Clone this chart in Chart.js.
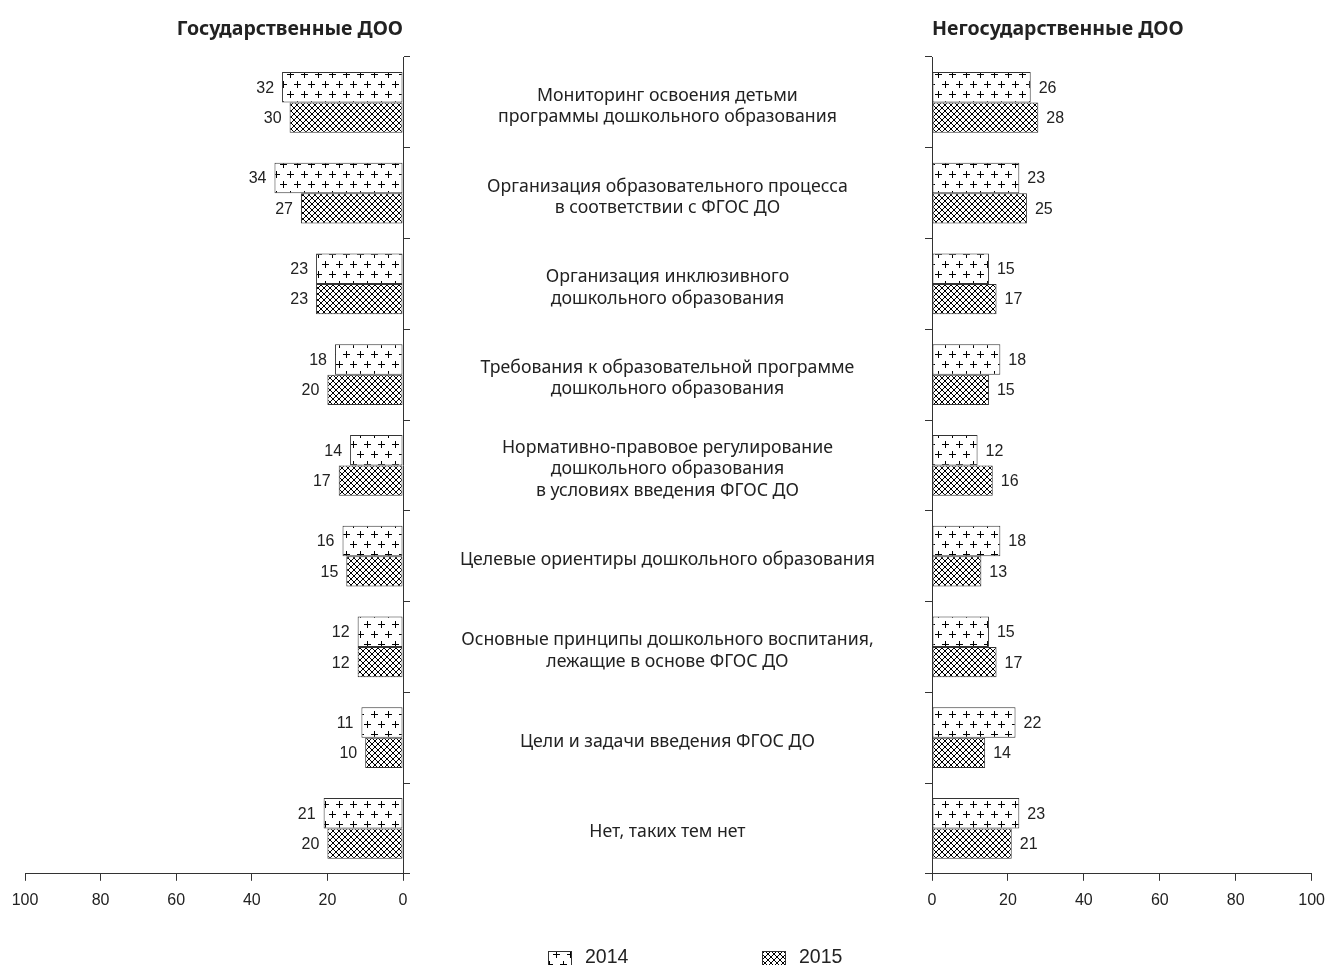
<!DOCTYPE html>
<html>
<head>
<meta charset="utf-8">
<script src="https://cdn.jsdelivr.net/npm/chart.js@4"></script>
<style>
  html, body { margin: 0; padding: 0; background: #fff; overflow: hidden; }
  #wrap { position: relative; width: 1325px; height: 965px; overflow: hidden; }
  canvas { position: absolute; top: 0; }
  #left { left: 0; }
  #right { left: 900px; }
</style>
</head>
<body>
<div id="wrap">
  <canvas id="left" width="932" height="965"></canvas>
  <canvas id="right" width="435" height="965"></canvas>
</div>
<script>
const temy = [
    ['Мониторинг освоения детьми', 'программы дошкольного образования'],
    ['Организация образовательного процесса', 'в соответствии с ФГОС ДО'],
    ['Организация инклюзивного', 'дошкольного образования'],
    ['Требования к образовательной программе', 'дошкольного образования'],
    ['Нормативно-правовое регулирование', 'дошкольного образования', 'в условиях введения ФГОС ДО'],
    'Целевые ориентиры дошкольного образования',
    ['Основные принципы дошкольного воспитания,', 'лежащие в основе ФГОС ДО'],
    'Цели и задачи введения ФГОС ДО',
    'Нет, таких тем нет'
];
const gos2014 = [32, 34, 23, 18, 14, 16, 12, 11, 21];
const gos2015 = [30, 27, 23, 20, 17, 15, 12, 10, 20];
const negos2014 = [26, 23, 15, 18, 12, 18, 15, 22, 23];
const negos2015 = [28, 25, 17, 15, 16, 13, 17, 14, 21];
const xTicks = [0, 20, 40, 60, 80, 100];

const textColor = '#222';
const lineColor = '#333';
const arial = '"Liberation Sans", Arial, sans-serif';

// штриховки
function plusPattern() {
    const c = document.createElement('canvas');
    c.width = 14; c.height = 20;
    const g = c.getContext('2d');
    g.fillStyle = '#fff';
    g.fillRect(0, 0, 14, 20);
    g.strokeStyle = '#000';
    g.lineWidth = 1;
    const plus = (x, y) => {
        g.beginPath();
        g.moveTo(x - 3.5, y); g.lineTo(x + 3.5, y);
        g.moveTo(x, y - 3.5); g.lineTo(x, y + 3.5);
        g.stroke();
    };
    plus(3.5, 4.5);
    plus(10.5, 14.5);
    return g.createPattern(c, 'repeat');
}
function hatchPattern() {
    const c = document.createElement('canvas');
    c.width = 6; c.height = 6;
    const g = c.getContext('2d');
    g.fillStyle = '#fff';
    g.fillRect(0, 0, 6, 6);
    g.strokeStyle = '#000';
    g.lineWidth = 1;
    g.beginPath();
    g.moveTo(-1, -1); g.lineTo(7, 7);
    g.moveTo(7, -1); g.lineTo(-1, 7);
    g.stroke();
    return g.createPattern(c, 'repeat');
}
const pat2014 = plusPattern();
const pat2015 = hatchPattern();

const valueLabels = {
    id: 'valueLabels',
    afterDatasetsDraw(chart, args, opts) {
        const ctx = chart.ctx;
        ctx.save();
        ctx.font = '16px ' + arial;
        ctx.fillStyle = textColor;
        ctx.textBaseline = 'middle';
        ctx.textAlign = opts.side < 0 ? 'right' : 'left';
        chart.data.datasets.forEach((ds, i) => {
            chart.getDatasetMeta(i).data.forEach((bar, j) => {
                ctx.fillText(ds.data[j], bar.x + opts.side * 8, bar.y + 1);
            });
        });
        ctx.restore();
    }
};

const patternLegend = {
    id: 'patternLegend',
    afterDraw(chart, args, opts) {
        if (!opts.items) return;
        const ctx = chart.ctx;
        ctx.save();
        ctx.font = '19.5px ' + arial;
        ctx.textBaseline = 'middle';
        ctx.textAlign = 'left';
        opts.items.forEach((it, i) => {
            const ds = chart.data.datasets[i];
            ctx.fillStyle = ds.backgroundColor;
            ctx.fillRect(it.x, opts.y, 24, 14);
            ctx.strokeStyle = lineColor;
            ctx.lineWidth = 1;
            ctx.strokeRect(it.x + 0.5, opts.y + 0.5, 23, 14);
            ctx.fillStyle = textColor;
            ctx.fillText(ds.label, it.x + 37, opts.y + 7);
        });
        ctx.restore();
    }
};

function makeDatasets(d14, d15) {
    return [{
        label: '2014',
        data: d14,
        backgroundColor: pat2014,
        borderColor: lineColor,
        borderWidth: 1,
        borderSkipped: false,
        categoryPercentage: 0.67,
        barPercentage: 1
    }, {
        label: '2015',
        data: d15,
        backgroundColor: pat2015,
        borderColor: lineColor,
        borderWidth: 1,
        borderSkipped: false,
        categoryPercentage: 0.67,
        barPercentage: 1
    }];
}

const xAxis = (reverse) => ({
    min: 0,
    max: 100,
    reverse: reverse,
    afterBuildTicks: (s) => { s.ticks = xTicks.map(v => ({ value: v })); },
    grid: { drawOnChartArea: false, tickLength: 7, color: lineColor },
    border: { color: lineColor },
    ticks: { color: textColor, padding: 10, maxRotation: 0, font: { family: arial, size: 16 } }
});

// ось категорий не должна раздвигать область графика
const fitY = (w) => (s) => {
    s.width = w;
    s.paddingTop = 0;
    s.paddingBottom = 0;
};

const titleFont = { family: '"Noto Sans", sans-serif', size: 19.5, weight: 'bold' };
const titlePad = { top: 18, bottom: 15.6 };

const chartL = new Chart(document.getElementById('left'), {
    type: 'bar',
    data: { labels: temy, datasets: makeDatasets(gos2014, gos2015) },
    plugins: [valueLabels, patternLegend],
    options: {
        indexAxis: 'y',
        responsive: false,
        animation: false,
        layout: { padding: { left: 25, right: 0, top: 0, bottom: 45 } },
        plugins: {
            legend: { display: false },
            tooltip: { enabled: false },
            title: {
                display: true,
                text: 'Государственные ДОО',
                align: 'end',
                fullSize: false,
                color: textColor,
                font: titleFont,
                padding: titlePad
            },
            valueLabels: { side: -1 },
            patternLegend: { y: 951, items: [{ x: 548 }, { x: 762 }] }
        },
        scales: {
            x: xAxis(true),
            y: {
                position: 'right',
                afterFit: fitY(529),
                grid: { drawOnChartArea: false, tickLength: 7, color: lineColor },
                border: { color: lineColor },
                ticks: {
                    crossAlign: 'center',
                    padding: 50,
                    labelOffset: 4,
                    color: textColor,
                    font: { family: '"Noto Sans", sans-serif', size: 17.7, lineHeight: 1.2 }
                }
            }
        }
    }
});

const chartR = new Chart(document.getElementById('right'), {
    type: 'bar',
    data: { labels: temy, datasets: makeDatasets(negos2014, negos2015) },
    plugins: [valueLabels],
    options: {
        indexAxis: 'y',
        responsive: false,
        animation: false,
        layout: { padding: { left: 0, right: 7, top: 0, bottom: 45 } },
        plugins: {
            legend: { display: false },
            tooltip: { enabled: false },
            title: {
                display: true,
                text: 'Негосударственные ДОО',
                align: 'start',
                fullSize: false,
                color: textColor,
                font: titleFont,
                padding: titlePad
            },
            valueLabels: { side: 1 }
        },
        scales: {
            x: xAxis(false),
            y: {
                position: 'left',
                afterFit: fitY(32),
                grid: { drawOnChartArea: false, tickLength: 7, color: lineColor },
                border: { color: lineColor },
                ticks: { display: false }
            }
        }
    }
});
</script>
</body>
</html>
